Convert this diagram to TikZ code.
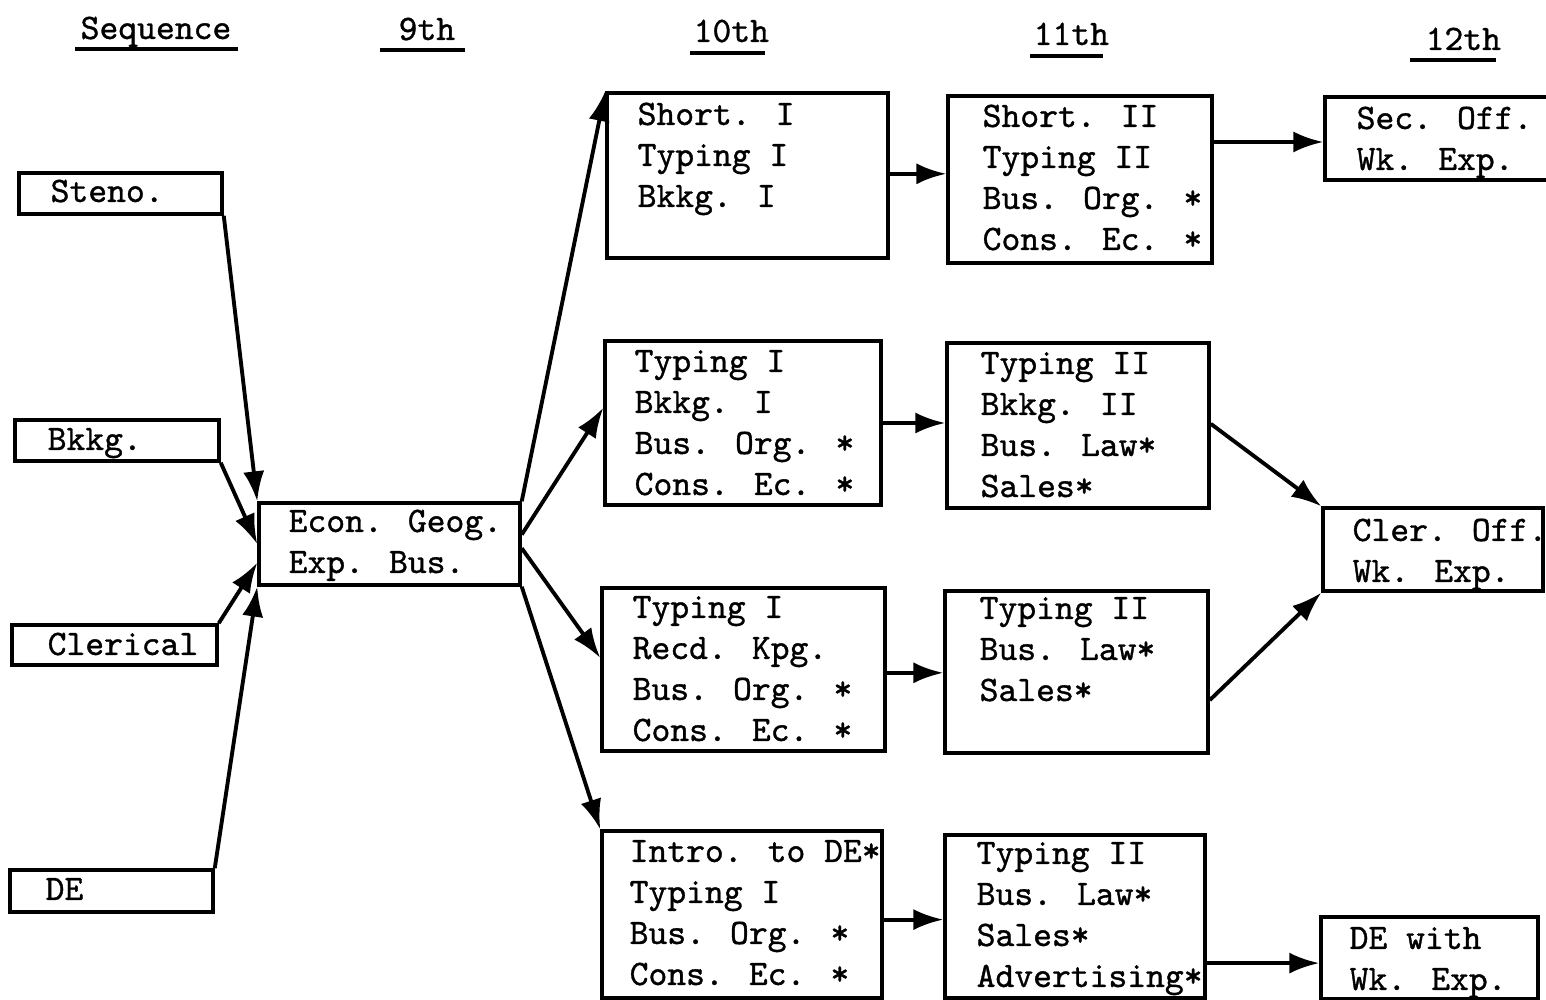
\documentclass[tikz,border=0pt]{standalone}
\usepackage{fontspec}
\newfontfamily\tw{Latin Modern Mono}[FakeBold=1]
\usetikzlibrary{fit,calc,arrows.meta}
\begin{document}
\begin{tikzpicture}[
  box/.style={draw, line width=1pt, inner sep=0pt},
  txt/.style={font=\tw\fontsize{10.2}{11.67}\selectfont, inner sep=0pt, anchor=base west, align=left},
  arr/.style={line width=1.1pt, -{Latex[length=8.5pt,width=6pt]}},
  ul/.style={line width=1pt}
]
\useasboundingbox (0,0) rectangle (15.46,-10);

% headers
\node[txt] (hseq) at (0.80,-0.39) {Sequence};
\draw[ul] (0.75,-0.49) -- (2.38,-0.49);
\node[txt] (h9) at (3.98,-0.40) {9th};
\draw[ul] (3.80,-0.50) -- (4.65,-0.50);
\node[txt] (h10) at (6.93,-0.42) {10th};
\draw[ul] (6.90,-0.53) -- (7.65,-0.53);
\node[txt] (h11) at (10.33,-0.45) {11th};
\draw[ul] (10.30,-0.56) -- (11.03,-0.56);
\node[txt] (h12) at (14.25,-0.50) {12th};
\draw[ul] (14.10,-0.60) -- (14.96,-0.60);

% sequence boxes
\node[box, fit={(0.19,-1.73)(2.22,-2.14)}] (sSteno) {};
\node[txt] (tSteno) at (0.50,-2.02) {Steno.};
\node[box, fit={(0.15,-4.20)(2.19,-4.61)}] (sBkkg) {};
\node[txt] (tBkkg) at (0.47,-4.50) {Bkkg.};
\node[box, fit={(0.12,-6.25)(2.17,-6.65)}] (sCler) {};
\node[txt] (tCler) at (0.47,-6.55) {Clerical};
\node[box, fit={(0.10,-8.70)(2.13,-9.12)}] (sDE) {};
\node[txt] (tDE) at (0.45,-9.00) {DE};

% 9th
\node[box, fit={(2.59,-5.03)(5.20,-5.85)}] (econ) {};
\node[txt] (tEcon) at (2.88,-5.73) {Econ. Geog.\\Exp. Bus.};

% 10th
\node[box, fit={(6.07,-0.93)(8.88,-2.58)}] (A) {};
\node[txt] (tA) at (6.37,-2.07) {Short. I\\Typing I\\Bkkg. I};
\node[box, fit={(6.05,-3.41)(8.81,-5.05)}] (B) {};
\node[txt] (tB) at (6.34,-4.95) {Typing I\\Bkkg. I\\Bus. Org. *\\Cons. Ec. *};
\node[box, fit={(6.02,-5.88)(8.85,-7.51)}] (C) {};
\node[txt] (tC) at (6.32,-7.41) {Typing I\\Recd. Kpg.\\Bus. Org. *\\Cons. Ec. *};
\node[box, fit={(6.02,-8.31)(8.82,-9.98)}] (D) {};
\node[txt] (tD) at (6.29,-9.85) {Intro. to DE*\\Typing I\\Bus. Org. *\\Cons. Ec. *};

% 11th
\node[box, fit={(9.48,-0.96)(12.12,-2.63)}] (E) {};
\node[txt] (tE) at (9.82,-2.50) {Short. II\\Typing II\\Bus. Org. *\\Cons. Ec. *};
\node[box, fit={(9.47,-3.43)(12.09,-5.08)}] (F) {};
\node[txt] (tF) at (9.80,-4.97) {Typing II\\Bkkg. II\\Bus. Law*\\Sales*};
\node[box, fit={(9.45,-5.91)(12.08,-7.53)}] (G) {};
\node[txt] (tG) at (9.79,-7.01) {Typing II\\Bus. Law*\\Sales*};
\node[box, fit={(9.45,-8.35)(12.05,-9.98)}] (H) {};
\node[txt] (tH) at (9.76,-9.87) {Typing II\\Bus. Law*\\Sales*\\Advertising*};

% 12th
\node[box, fit={(13.25,-0.97)(15.70,-1.80)}] (sec) {};
\node[txt] (tsec) at (13.56,-1.70) {Sec. Off.\\Wk. Exp.};
\node[box, fit={(13.23,-5.08)(15.43,-5.91)}] (cleroff) {};
\node[txt] (tcleroff) at (13.52,-5.82) {Cler. Off.\\Wk. Exp.};
\node[box, fit={(13.21,-9.17)(15.38,-9.99)}] (dewith) {};
\node[txt] (tdewith) at (13.49,-9.90) {DE with\\Wk. Exp.};

% connectors into 9th
\draw[arr] (sSteno.south east) -- (econ.north west);
\draw[arr] (sBkkg.south east) -- (econ.west);
\draw[arr] (sCler.north east) -- ($(econ.north west)!0.72!(econ.south west)$);
\draw[arr] (sDE.north east) -- (econ.south west);

% 9th -> 10th
\draw[arr] (econ.north east) -- (A.north west);
\draw[arr] ($(econ.north east)!0.39!(econ.south east)$) -- ($(B.north west)!0.41!(B.south west)$);
\draw[arr] ($(econ.north east)!0.55!(econ.south east)$) -- ($(C.north west)!0.43!(C.south west)$);
\draw[arr] (econ.south east) -- (D.north west);

% 10th -> 11th
\coordinate (a1) at ($(A.north east)!0.49!(A.south east)$);
\draw[arr] (a1) -- (a1 -| E.west);
\draw[arr] (B.east) -- (B.east -| F.west);
\coordinate (c1) at ($(C.north east)!0.52!(C.south east)$);
\draw[arr] (c1) -- (c1 -| G.west);
\coordinate (d1) at ($(D.north east)!0.53!(D.south east)$);
\draw[arr] (d1) -- (d1 -| H.west);

% 11th -> 12th
\coordinate (e1) at ($(E.north east)!0.28!(E.south east)$);
\draw[arr] (e1) -- (e1 -| sec.west);
\draw[arr] ($(F.north east)!0.49!(F.south east)$) -- (cleroff.north west);
\draw[arr] ($(G.north east)!0.67!(G.south east)$) -- (cleroff.south west);
\coordinate (h1) at ($(H.north east)!0.78!(H.south east)$);
\draw[arr] (h1) -- (h1 -| dewith.west);
\end{tikzpicture}
\end{document}
